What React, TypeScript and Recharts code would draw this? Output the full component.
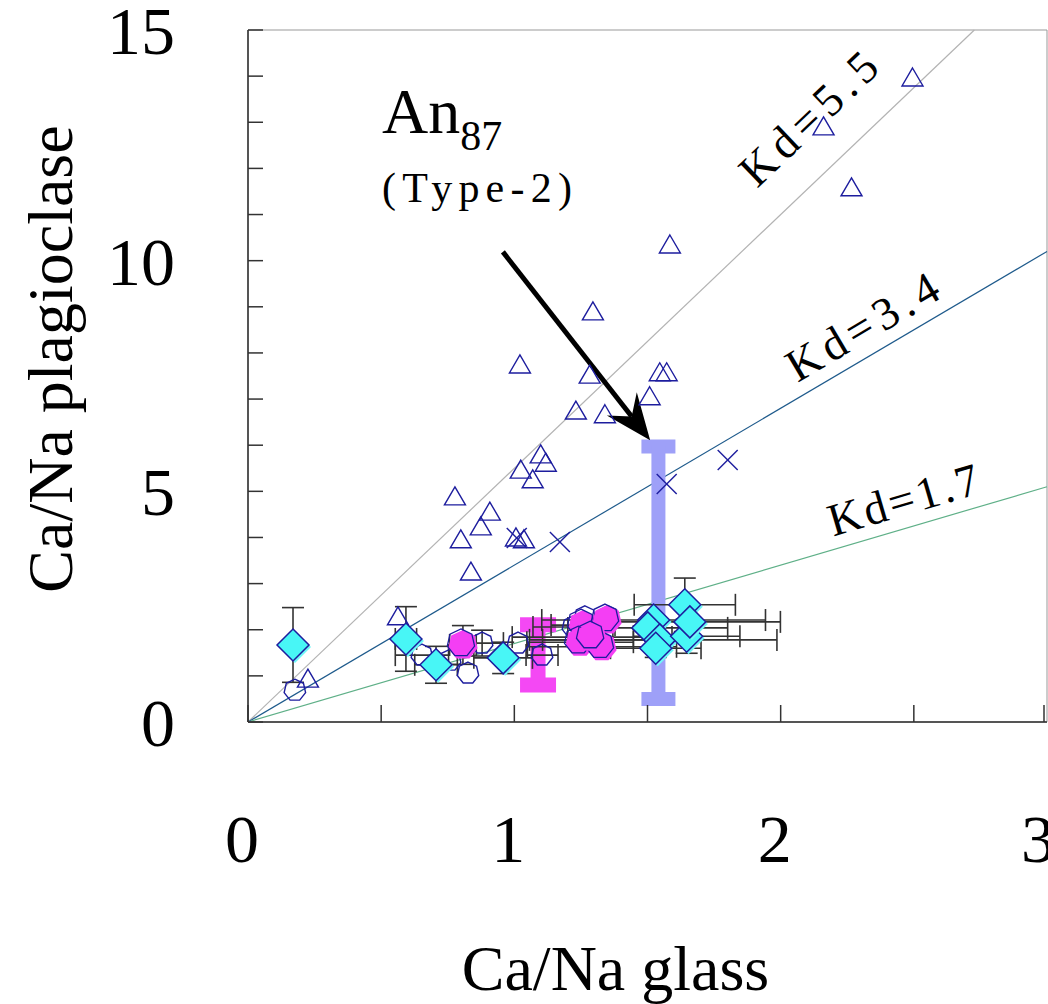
import React from 'react';
import {
  ScatterChart,
  Scatter,
  XAxis,
  YAxis,
  ErrorBar,
  ReferenceLine,
  ReferenceDot,
  Label,
} from 'recharts';

// Ca/Na plagioclase vs Ca/Na glass, with constant-Kd reference lines.

const W = 1048;
const H = 1004;
const PLOT_LEFT = 248;
const PLOT_TOP = 30;
const PLOT_RIGHT_GAP = 1;
const AXIS_BOTTOM = 282;
const X_MAX = 3;
const Y_MAX = 15;
const PX_X = (W - PLOT_LEFT - PLOT_RIGHT_GAP) / X_MAX;
const PX_Y = (H - AXIS_BOTTOM - PLOT_TOP) / Y_MAX;

const SERIF = "'Liberation Serif', 'Times New Roman', serif";
const NAVY = '#1d1d9e';

const xTicks = [0, 0.5, 1, 1.5, 2, 2.5, 3];
const yTicks = [0, 1, 2, 3, 4, 5, 6, 7, 8, 9, 10, 11, 12, 13, 14, 15];

const kdValues = [5.5, 3.4, 1.7];
const kdColours = ['#b3b3b3', '#1f5b8c', '#5fb088'];
const kdLabels = ['Kd=5.5', 'Kd=3.4', 'Kd=1.7'];
const kdLabelPos = [
  { x: 2.103, y: 13.09 },
  { x: 2.306, y: 8.58 },
  { x: 2.46, y: 4.83 },
];
const kdLabelLength = [172, 169, 155];

const triangles = [
  { x: 2.495, y: 13.96 }, { x: 2.161, y: 12.9 }, { x: 2.266, y: 11.58 },
  { x: 1.584, y: 10.34 }, { x: 1.295, y: 8.89 }, { x: 1.021, y: 7.74 },
  { x: 1.283, y: 7.52 }, { x: 1.546, y: 7.57 }, { x: 1.572, y: 7.57 },
  { x: 1.231, y: 6.74 }, { x: 1.34, y: 6.66 }, { x: 1.508, y: 7.05 },
  { x: 1.099, y: 5.79 }, { x: 1.118, y: 5.61 }, { x: 1.024, y: 5.46 },
  { x: 1.069, y: 5.25 }, { x: 0.777, y: 4.88 }, { x: 0.908, y: 4.55 },
  { x: 0.874, y: 4.23 }, { x: 0.799, y: 3.95 }, { x: 1.006, y: 3.99 },
  { x: 1.036, y: 3.95 }, { x: 0.837, y: 3.25 }, { x: 0.563, y: 2.28 },
  { x: 0.225, y: 0.93 },
];

const crosses = [
  { x: 1.171, y: 3.9 }, { x: 1.009, y: 3.99 }, { x: 1.572, y: 5.16 }, { x: 1.801, y: 5.68 },
];

const openHepta = [
  { x: 0.653, y: 1.45, ex: 0.1, ey: 0 }, { x: 0.759, y: 1.34, ex: 0, ey: 0 },
  { x: 0.879, y: 1.71, ex: 0.08, ey: 0.28 }, { x: 0.826, y: 1.06, ex: 0, ey: 0 },
  { x: 0.176, y: 0.69, ex: 0, ey: 0 }, { x: 1.014, y: 1.71, ex: 0, ey: 0 },
  { x: 1.104, y: 1.45, ex: 0.06, ey: 0 }, { x: 1.265, y: 2.28, ex: 0, ey: 0 },
  { x: 1.352, y: 2.28, ex: 0, ey: 0 }, { x: 1.277, y: 1.78, ex: 0.22, ey: 0 },
  { x: 1.22, y: 2.06, ex: 0.15, ey: 0 }, { x: 1.24, y: 1.7, ex: 0, ey: 0 },
];

const magenta = [
  { x: 0.807, y: 1.67, ex: 0.05, ey: 0.42 }, { x: 1.258, y: 2.1, ex: 0.12, ey: 0 },
  { x: 1.348, y: 2.21, ex: 0, ey: 0 }, { x: 1.247, y: 1.73, ex: 0.2, ey: 0 },
  { x: 1.329, y: 1.63, ex: 0.28, ey: 0 }, { x: 1.292, y: 1.84, ex: 0.3, ey: 0.32 },
];

const diamonds = [
  { x: 0.169, y: 1.67, ex: 0, ey: 0.81 }, { x: 0.593, y: 1.8, ex: 0.04, ey: 0.7 },
  { x: 0.706, y: 1.24, ex: 0.08, ey: 0.4 }, { x: 0.958, y: 1.39, ex: 0.11, ey: 0.34 },
  { x: 1.523, y: 2.21, ex: 0.42, ey: 0 }, { x: 1.501, y: 2.04, ex: 0.3, ey: 0 },
  { x: 1.546, y: 1.78, ex: 0.44, ey: 0 }, { x: 1.531, y: 1.6, ex: 0.17, ey: 0.2 },
  { x: 1.64, y: 2.54, ex: 0.19, ey: 0.58 }, { x: 1.647, y: 1.86, ex: 0.2, ey: 0.37 },
  { x: 1.659, y: 2.17, ex: 0.34, ey: 0 },
];

// Thick I-beam ranges
const type2Range = [{ x: 1.541, y: 3.235, ey: 2.735 }];
const magentaRange = [{ x: 1.089, y: 1.455, ey: 0.655 }];

const arrowFrom = { x: 0.957, y: 10.19 };
const arrowTo = { x: 1.51, y: 6.11 };
const anPos = { x: 0.503, y: 12.77 };
const typePos = { x: 0.503, y: 11.27 };

const heptaPoints = (cx: number, cy: number, r: number) =>
  Array.from({ length: 7 }, (_, i) => {
    const a = -Math.PI / 2 + (i * 2 * Math.PI) / 7;
    return `${cx + r * Math.cos(a)},${cy + r * Math.sin(a)}`;
  }).join(' ');

const TriangleShape = (p: any) => (
  <polygon
    points={`${p.cx},${p.cy - 10} ${p.cx + 10.5},${p.cy + 8} ${p.cx - 10.5},${p.cy + 8}`}
    fill="none"
    stroke={NAVY}
    strokeWidth={1.4}
  />
);

const CrossShape = (p: any) => (
  <g stroke={NAVY} strokeWidth={1.4}>
    <line x1={p.cx - 10} y1={p.cy - 10} x2={p.cx + 10} y2={p.cy + 10} />
    <line x1={p.cx - 10} y1={p.cy + 10} x2={p.cx + 10} y2={p.cy - 10} />
  </g>
);

const OpenHeptaShape = (p: any) => (
  <polygon points={heptaPoints(p.cx, p.cy, 11)} fill="none" stroke={NAVY} strokeWidth={1.4} />
);

const MagentaShape = (p: any) => (
  <g>
    <polygon points={heptaPoints(p.cx, p.cy, 15)} fill="#f43ef4" />
    <polygon points={heptaPoints(p.cx - 2, p.cy - 2, 14)} fill="none" stroke={NAVY} strokeWidth={1.3} />
  </g>
);

const DiamondShape = (p: any) => {
  const d = (cx: number, cy: number, r: number) =>
    `${cx},${cy - r} ${cx + r},${cy} ${cx},${cy + r} ${cx - r},${cy}`;
  return (
    <g>
      <polygon points={d(p.cx + 2, p.cy + 2, 16)} fill="#6ff8f8" />
      <polygon points={d(p.cx, p.cy, 16)} fill="#48f6f6" stroke={NAVY} strokeWidth={1.5} />
    </g>
  );
};

const NoShape = () => <g />;

const XTick = (p: any) => {
  const v = p.payload.value;
  return (
    <g>
      <line x1={p.x} y1={p.y} x2={p.x} y2={p.y - 17} stroke="#333" strokeWidth={1.5} />
      {Number.isInteger(v) && (
        <text x={p.x - 6} y={p.y + 140} textAnchor="middle" fontFamily={SERIF} fontSize={68} fill="#000">
          {v}
        </text>
      )}
    </g>
  );
};

const YTick = (p: any) => {
  const v = p.payload.value;
  return (
    <g>
      <line x1={p.x} y1={p.y} x2={p.x + 15} y2={p.y} stroke="#333" strokeWidth={1.5} />
      {v % 5 === 0 && (
        <text x={p.x - 73} y={p.y + 24} textAnchor="end" fontFamily={SERIF} fontSize={68} fill="#000">
          {v}
        </text>
      )}
    </g>
  );
};

const ArrowShape = (p: any) => {
  const { x1, y1, x2, y2 } = p;
  const len = Math.hypot(x2 - x1, y2 - y1);
  const ux = (x2 - x1) / len;
  const uy = (y2 - y1) / len;
  const nx = -uy;
  const ny = ux;
  const bx = x2 - 46 * ux;
  const by = y2 - 46 * uy;
  const notchX = x2 - 30 * ux;
  const notchY = y2 - 30 * uy;
  return (
    <g>
      <line x1={x1} y1={y1} x2={notchX} y2={notchY} stroke="#000" strokeWidth={5} />
      <polygon
        points={`${x2},${y2} ${bx + 19 * nx},${by + 19 * ny} ${notchX},${notchY} ${bx - 19 * nx},${by - 19 * ny}`}
        fill="#000"
      />
    </g>
  );
};

const kdAngle = (kd: number) => (Math.atan((kd * PX_Y) / PX_X) * 180) / Math.PI;

export default function App() {
  return (
    <div style={{ position: 'fixed', left: 0, top: 0, background: '#fff' }}>
      <ScatterChart width={W} height={H} margin={{ top: PLOT_TOP, right: PLOT_RIGHT_GAP, bottom: 0, left: 0 }}>
        <XAxis
          dataKey="x"
          type="number"
          domain={[0, X_MAX]}
          ticks={xTicks}
          allowDataOverflow
          height={AXIS_BOTTOM}
          tickSize={0}
          tickMargin={0}
          tickLine={false}
          tick={<XTick />}
          axisLine={{ stroke: '#555', strokeWidth: 2 }}
        >
          <Label
            content={(p: any) => {
              const vb = p.viewBox;
              return (
                <text
                  x={vb.x + vb.width / 2 - 32}
                  y={vb.y + vb.height - 14}
                  textAnchor="middle"
                  fontFamily={SERIF}
                  fontSize={64}
                  fill="#000"
                >
                  Ca/Na glass
                </text>
              );
            }}
          />
        </XAxis>
        <YAxis
          dataKey="y"
          type="number"
          domain={[0, Y_MAX]}
          ticks={yTicks}
          allowDataOverflow
          width={PLOT_LEFT}
          tickSize={0}
          tickMargin={0}
          tickLine={false}
          tick={<YTick />}
          axisLine={{ stroke: '#555', strokeWidth: 2 }}
        >
          <Label
            content={(p: any) => {
              const vb = p.viewBox;
              const cx = 72;
              const cy = vb.y + vb.height / 2 - 17;
              return (
                <text
                  x={cx}
                  y={cy}
                  transform={`rotate(-90 ${cx} ${cy})`}
                  textAnchor="middle"
                  fontFamily={SERIF}
                  fontSize={64}
                  fill="#000"
                >
                  Ca/Na plagioclase
                </text>
              );
            }}
          />
        </YAxis>

        {/* frame: top and right edges */}
        <ReferenceLine y={Y_MAX} stroke="#999" strokeWidth={1} />
        <ReferenceLine x={X_MAX} stroke="#999" strokeWidth={1} />

        {kdValues.map((kd, i) => (
          <ReferenceLine
            key={`kd-${kd}`}
            segment={[
              { x: 0, y: 0 },
              { x: Math.min(X_MAX, Y_MAX / kd), y: Math.min(Y_MAX, X_MAX * kd) },
            ]}
            stroke={kdColours[i]}
            strokeWidth={1.2}
          />
        ))}
        {kdValues.map((kd, i) => (
          <ReferenceDot
            key={`kdl-${kd}`}
            x={kdLabelPos[i].x}
            y={kdLabelPos[i].y}
            shape={(p: any) => (
              <text
                x={p.cx}
                y={p.cy}
                dy="0.35em"
                transform={`rotate(${-kdAngle(kd)} ${p.cx} ${p.cy})`}
                textAnchor="middle"
                fontFamily={SERIF}
                fontSize={46}
                fill="#000"
                textLength={kdLabelLength[i]}
                lengthAdjust="spacing"
              >
                {kdLabels[i]}
              </text>
            )}
          />
        ))}

        <Scatter data={type2Range} shape={NoShape} isAnimationActive={false}>
          <ErrorBar dataKey="ey" direction="y" width={17} stroke="#9ea0f8" strokeWidth={14} isAnimationActive={false} />
        </Scatter>
        <Scatter data={magentaRange} shape={NoShape} isAnimationActive={false}>
          <ErrorBar dataKey="ey" direction="y" width={18} stroke="#f448f4" strokeWidth={15} isAnimationActive={false} />
        </Scatter>

        <Scatter data={triangles} shape={TriangleShape} isAnimationActive={false} />
        <Scatter data={crosses} shape={CrossShape} isAnimationActive={false} />

        <Scatter data={openHepta} shape={OpenHeptaShape} isAnimationActive={false}>
          <ErrorBar dataKey="ex" direction="x" width={11} stroke="#333" strokeWidth={1.6} isAnimationActive={false} />
          <ErrorBar dataKey="ey" direction="y" width={11} stroke="#333" strokeWidth={1.6} isAnimationActive={false} />
        </Scatter>
        <Scatter data={magenta} shape={MagentaShape} isAnimationActive={false}>
          <ErrorBar dataKey="ex" direction="x" width={11} stroke="#333" strokeWidth={1.6} isAnimationActive={false} />
          <ErrorBar dataKey="ey" direction="y" width={11} stroke="#333" strokeWidth={1.6} isAnimationActive={false} />
        </Scatter>
        <Scatter data={diamonds} shape={DiamondShape} isAnimationActive={false}>
          <ErrorBar dataKey="ex" direction="x" width={11} stroke="#333" strokeWidth={1.6} isAnimationActive={false} />
          <ErrorBar dataKey="ey" direction="y" width={11} stroke="#333" strokeWidth={1.6} isAnimationActive={false} />
        </Scatter>

        <ReferenceLine
          segment={[arrowFrom, arrowTo]}
          stroke="#000"
          shape={(p: any) => <ArrowShape {...p} />}
        />
        <ReferenceDot
          x={anPos.x}
          y={anPos.y}
          shape={(p: any) => (
            <text x={p.cx} y={p.cy} fontFamily={SERIF} fontSize={64} fill="#000">
              An
              <tspan fontSize={42} dy={17}>87</tspan>
            </text>
          )}
        />
        <ReferenceDot
          x={typePos.x}
          y={typePos.y}
          shape={(p: any) => (
            <text
              x={p.cx}
              y={p.cy}
              fontFamily={SERIF}
              fontSize={42}
              fill="#000"
              textLength={190}
              lengthAdjust="spacing"
            >
              (Type-2)
            </text>
          )}
        />
      </ScatterChart>
    </div>
  );
}
